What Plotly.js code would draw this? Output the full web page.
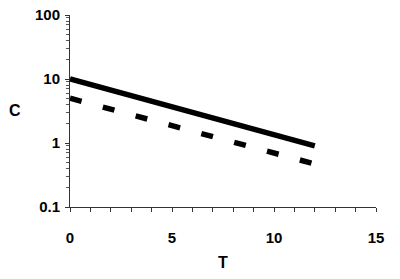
<!DOCTYPE html>
<html>
<head>
<meta charset="utf-8">
<script src="https://cdn.plot.ly/plotly-3.0.1.min.js"></script>
<style>html,body{margin:0;padding:0;background:#fff;}#chart{width:400px;height:279px;}</style>
</head>
<body>
<div id="chart"></div>
<script>
var T = [0, 12];
var C_solid = [10, 0.9];
var C_dashed = [5, 0.47];
var xTickVals = [0, 5, 10, 15];
var yTickVals = [0.1, 1, 10, 100];
var yTickText = ['0.1', '1', '10', '100'];

var font = {family: 'Liberation Sans, Arial, sans-serif', size: 15, color: '#000'};

var data = [
  {x: T, y: C_solid, mode: 'lines', line: {color: '#000', width: 5.5}, showlegend: false, hoverinfo: 'skip'},
  {x: T, y: C_dashed, mode: 'lines', line: {color: '#000', width: 5.5, dash: '12px,22px'}, showlegend: false, hoverinfo: 'skip'}
];

var layout = {
  width: 400, height: 279,
  margin: {l: 70, r: 24, t: 15, b: 72},
  paper_bgcolor: '#fff', plot_bgcolor: '#fff',
  font: font,
  xaxis: {
    range: [0, 15], tickvals: xTickVals, ticktext: xTickVals.map(String),
    showgrid: false, zeroline: false, showline: true, linecolor: '#333', linewidth: 1,
    ticks: 'outside', ticklen: 4, tickcolor: '#333', tickwidth: 1,
    minor: {dtick: 1, ticks: 'outside', ticklen: 4, tickcolor: '#333', showgrid: false},
    tickfont: {family: font.family, size: 15, color: '#000', weight: 'bold'},
    ticklabelstandoff: 13,
    title: {text: '<b>T</b>', font: {family: font.family, size: 16, color: '#000'}, standoff: 11}
  },
  yaxis: {
    type: 'log', range: [-1, 2], tickvals: yTickVals, ticktext: yTickText,
    showgrid: false, zeroline: false, showline: true, linecolor: '#333', linewidth: 1,
    ticks: 'outside', ticklen: 4, tickcolor: '#333', tickwidth: 1,
    minor: {dtick: 'D1', ticks: 'outside', ticklen: 3, tickcolor: '#555', showgrid: false},
    tickfont: {family: font.family, size: 15, color: '#000', weight: 'bold'},
    ticklabelstandoff: 2
  },
  annotations: [
    {text: '<b>C</b>', xref: 'paper', yref: 'paper', x: -0.18, y: 0.505, xanchor: 'center', yanchor: 'middle', showarrow: false, font: {family: font.family, size: 16, color: '#000'}}
  ]
};

Plotly.newPlot('chart', data, layout, {displayModeBar: false, staticPlot: true});
</script>
</body>
</html>
